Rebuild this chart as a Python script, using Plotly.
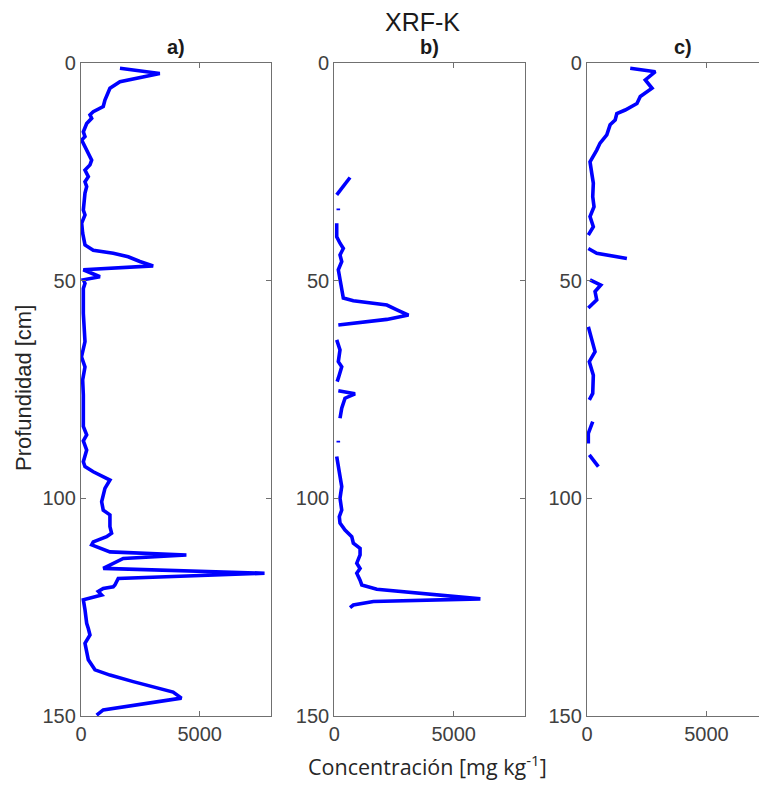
import plotly.graph_objects as go

# Panel a)
depth_a = [1.2, 2.4, 4.3, 5.8, 8.5, 10.0, 11.2, 11.9, 12.7, 13.9, 15.8, 16.9, 17.7, 20.0, 22.3, 23.4,
           24.6, 26.1, 27.3, 28.4, 29.9, 33.8, 34.9, 36.8, 39.1, 41.8, 43.0, 43.7, 44.5, 45.6, 46.6,
           47.5, 49.1, 49.8, 50.6, 51.8, 57.5, 64.0, 67.5, 69.8, 72.8, 76.3, 80.5, 83.5, 85.4, 86.8,
           88.9, 91.6, 92.7, 93.9, 95.8, 97.7, 100.8, 102.7, 103.8, 106.5, 108.0, 108.8, 110.0,
           110.7, 112.3, 113.0, 113.8, 116.1, 117.2, 118.4, 119.9, 120.3, 120.7, 121.4, 122.2,
           123.3, 125.6, 128.7, 129.9, 131.4, 133.3, 135.6, 137.1, 139.4, 140.6, 142.1, 143.3,
           144.5, 145.9, 147.5, 148.6, 149.8]
k_a = [1640, 3318, 1640, 1218, 1008, 937, 517, 378, 449, 239, 98, 168, 28, 239, 449, 378,
       168, 308, 168, 239, 168, 98, 168, 28, 70, 168, 517, 1358, 1988, 2478, 3038,
       98, 798, 98, 168, 98, 98, 168, 20, 168, 70, 98, 98, 98, 239, 98,
       239, 98, 168, 517, 1218, 1008, 869, 937, 1218, 1218, 1288, 1078, 517,
       449, 1218, 4438, 1778, 937, 7728, 1568, 1428, 1358, 937, 728, 869,
       98, 168, 239, 308, 378, 168, 239, 308, 588, 1218, 2198, 3038,
       3878, 4228, 2338, 937, 658]

# Panel b)
depth_b = [26.3, 28.4, 30.3, None, 33.4, 33.8, None, 36.8, 39.9, 41.4, 42.6, 44.1, 45.6, 47.5,
           49.8, 54.0, 54.6, 55.6, 56.7, 57.9, 58.9, 60.2, None, 63.6, 65.9, 68.6, 69.8, 72.4,
           73.2, None, 75.3, 76.0, 77.0, 79.3, 81.6, None, 86.8, 87.2, None, 90.4, 92.7, 97.3,
           100.0, 102.7, 104.2, 105.7, 107.3, 108.8, 110.3, 111.5, 113.0, 114.9, 116.1, 117.2,
           118.8, 119.9, 120.9, 121.8, 123.1, 123.7, 124.5, 125.1]
k_b = [659, 378, 101, None, 168, 168, None, 101, 101, 239, 378, 239, 311, 168,
       239, 378, 798, 2201, 2621, 3108, 2201, 168, None, 101, 239, 168, 311, 168,
       120, None, 168, 869, 449, 311, 239, None, 168, 168, None, 101, 168, 311,
       239, 311, 210, 239, 449, 731, 798, 1079, 1079, 941, 1079, 941,
       1079, 1151, 1781, 3738, 6119, 1638, 798, 659]

# Panel c)
depth_c = [1.2, 2.0, 3.9, 5.8, 7.7, 9.3, 10.8, 11.6, 13.1, 14.2, 16.5, 18.4, 20.0, 22.7, 25.3,
           27.6, 30.7, 33.0, 35.3, 37.6, 39.5, None, 42.6, 43.7, 44.9, None, 49.8, 51.0, 52.5,
           54.4, 56.3, None, 60.6, 63.6, 66.3, 68.6, 71.7, 75.9, 77.4, None, 82.4, 85.1, 87.4,
           None, 90.0, 92.7]
k_c = [1810, 2863, 2442, 2724, 2231, 2092, 1600, 1250, 1179, 968, 829, 547, 408, 126, 198,
       265, 240, 295, 126, 265, 55, None, 55, 408, 1671, None, 126, 577, 337,
       408, 55, None, 55, 198, 337, 97, 265, 240, 97, None, 240, 55, 55,
       None, 97, 476]

panel_titles = ["a)", "b)", "c)"]
x_ticks = [0, 5000]
y_ticks = [0, 50, 100, 150]

OFF = 8  # page body margin offset
W, H = 767 - OFF, 785 - OFF
TOP, BOT = 63, 716
ML = 50 - OFF
MR = 0
MT = TOP - OFF
MB = H - (BOT - OFF)
PW = W - ML - MR
PH = H - MT - MB


def xdom(p):
    return (p - OFF - ML) / PW


def ydom(p):
    return 1 - (p - OFF - MT) / PH


domains = [(xdom(81), xdom(271)), (xdom(334.3), xdom(525.3)), (xdom(587), 1.0)]
xmax = [8000, 8000, 8000 * (767 - 587) / (778 - 587)]

fig = go.Figure()
series = [(k_a, depth_a), (k_b, depth_b), (k_c, depth_c)]
for i, (xv, yv) in enumerate(series):
    sfx = "" if i == 0 else str(i + 1)
    fig.add_trace(go.Scatter(x=xv, y=yv, mode="lines", xaxis="x" + sfx, yaxis="y" + sfx,
                             line=dict(color="#0000FF", width=3.6), connectgaps=False,
                             showlegend=False, hoverinfo="skip"))

axcol = "#707070"
tickfont = dict(family="Liberation Sans, Arial", size=20, color="#404040")
layout = dict(width=W, height=H, margin=dict(l=ML, r=MR, t=MT, b=MB, pad=0),
              paper_bgcolor="white", plot_bgcolor="white", showlegend=False)
for i in range(3):
    sfx = "" if i == 0 else str(i + 1)
    layout["xaxis" + sfx] = dict(domain=list(domains[i]), range=[0, xmax[i]], anchor="y" + sfx,
                                 tickvals=x_ticks, ticktext=[str(v) for v in x_ticks],
                                 ticks="inside", ticklen=5, tickcolor=axcol, tickwidth=1,
                                 showline=True, linecolor=axcol, linewidth=1.3, mirror="ticks",
                                 showgrid=False, zeroline=False, tickfont=tickfont)
    layout["yaxis" + sfx] = dict(domain=[0, 1], range=[150, 0], anchor="x" + sfx,
                                 tickvals=y_ticks, ticktext=[str(v) for v in y_ticks],
                                 ticks="inside", ticklen=5, tickcolor=axcol, tickwidth=1,
                                 showline=True, linecolor=axcol, linewidth=1.3,
                                 mirror="ticks" if i < 2 else False,
                                 showgrid=False, zeroline=False, tickfont=tickfont)
fig.update_layout(**layout)

annotations = []
centers = [176, 429.8, 682.5]
for t, cx in zip(panel_titles, centers):
    annotations.append(dict(text="<b>%s</b>" % t, x=xdom(cx), y=ydom(47),
                            xanchor="center", yanchor="middle", showarrow=False,
                            font=dict(family="Liberation Sans, Arial", size=20, color="#1a1a1a")))
annotations.append(dict(text="XRF-K", x=xdom(422), y=ydom(22),
                        xanchor="center", yanchor="middle", showarrow=False,
                        font=dict(family="Liberation Sans, Arial", size=25, color="#1a1a1a")))
annotations.append(dict(text="Profundidad [cm]", x=xdom(24), y=ydom(388),
                        xanchor="center", yanchor="middle", showarrow=False, textangle=-90,
                        font=dict(family="Liberation Sans, Arial", size=22, color="#262626")))
annotations.append(dict(text="Concentración [mg kg<sup>-1</sup>]", x=xdom(427), y=ydom(765),
                        xanchor="center", yanchor="middle", showarrow=False,
                        font=dict(family="Open Sans", size=21.5, color="#262626")))
for a in annotations:
    a["xref"] = "paper"
    a["yref"] = "paper"
fig.update_layout(annotations=annotations)

fig.write_html("out.html")
